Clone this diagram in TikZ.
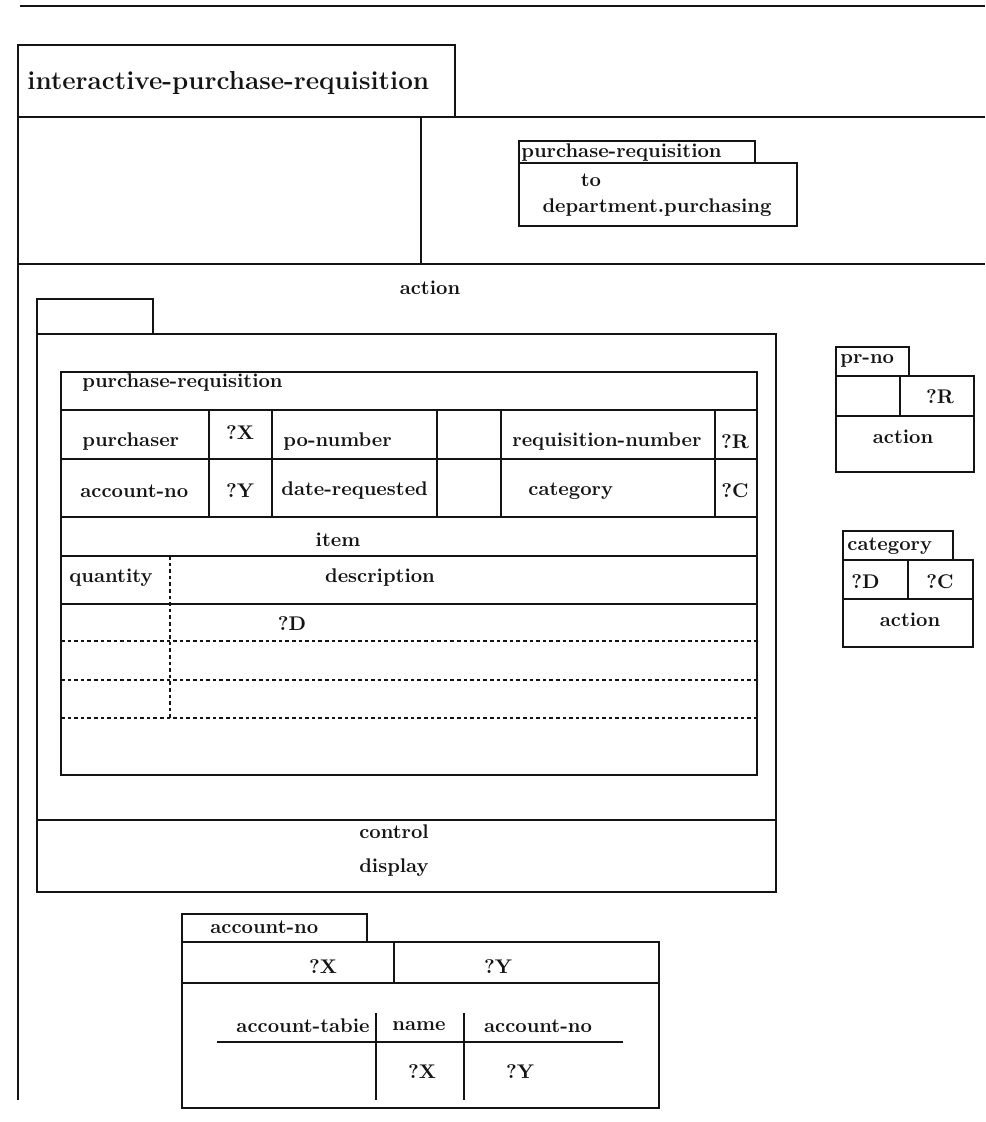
\documentclass[tikz,border=0pt]{standalone}
\usepackage{tikz}
\definecolor{formink}{RGB}{20,20,20}
\tikzset{
  rule/.style={draw=formink,line width=0.9pt},
  toprule/.style={draw=formink,line width=1.4pt},
  slot/.style={draw=formink,line width=0.7pt,dashed,dash pattern=on 1.8pt off 1.5pt},
  field/.style={font=\fontsize{9.9}{12}\selectfont\bfseries,inner sep=0pt,text=formink},
  fieldw/.style={field,anchor=west},
  bigtitle/.style={font=\fontsize{13}{16}\selectfont\bfseries,inner sep=0pt,anchor=west,text=formink}
}

\begin{document}
\begin{tikzpicture}[x=0.5pt,y=-0.5pt]
  \useasboundingbox (0,0) rectangle (985,1122);

  % outer frame
  \draw[toprule] (20,6) -- (985,6);
  \draw[rule] (18,45) rectangle (455,117);
  \draw[rule] (18,117) -- (985,117);
  \draw[rule] (421,117) -- (421,264);
  \draw[rule] (18,264) -- (985,264);
  \draw[rule] (18,45) -- (18,1100);
  \node[bigtitle] (ipr) at (27,83) {interactive-purchase-requisition};

  % message box
  \draw[rule] (519,141) rectangle (755,163);
  \draw[rule] (519,163) rectangle (797,226);
  \node[fieldw] (msgtab) at (521,153) {purchase-requisition};
  \node[field] (msgto) at (591,180) {to};
  \node[field] (msgdep) at (657,208) {department.purchasing};

  \node[field] (act) at (430,288) {action};

  % form window
  \draw[rule] (37,299) rectangle (153,334);
  \draw[rule] (37,334) rectangle (776,892);
  \draw[rule] (37,820) -- (776,820);
  \node[field] (ctl) at (394,832) {control};
  \node[field] (dsp) at (394,868) {display};

  % purchase-requisition form
  \draw[rule] (61,372) rectangle (757,775);
  \draw[rule] (61,410) -- (757,410);
  \draw[rule] (61,459) -- (757,459);
  \draw[rule] (61,517) -- (757,517);
  \draw[rule] (61,556) -- (757,556);
  \draw[rule] (61,604) -- (757,604);
  \foreach \cx in {209,272,437,501,715}
    \draw[rule] (\cx,410) -- (\cx,517);
  \draw[slot] (170,556) -- (170,718);
  \foreach \ry in {641,680,718}
    \draw[slot] (61,\ry) -- (757,\ry);

  \node[fieldw] (prtitle) at (82,383) {purchase-requisition};
  \node[fieldw] (purch) at (82,442) {purchaser};
  \node[field] (purchv) at (240,433) {?X};
  \node[fieldw] (pono) at (283,442) {po-number};
  \node[fieldw] (reqno) at (512,442) {requisition-number};
  \node[field] (reqnov) at (735,442) {?R};
  \node[fieldw] (accno) at (80,491) {account-no};
  \node[field] (accnov) at (240,491) {?Y};
  \node[fieldw] (daterq) at (281,491) {date-requested};
  \node[fieldw] (categ) at (528,491) {category};
  \node[field] (categv) at (735,491) {?C};
  \node[field] (item) at (338,540) {item};
  \node[fieldw] (qty) at (69,578) {quantity};
  \node[field] (descr) at (380,578) {description};
  \node[field] (descrv) at (292,624) {?D};

  % pr-no box
  \draw[rule] (836,347) rectangle (909,376);
  \draw[rule] (836,376) rectangle (974,472);
  \draw[rule] (836,416) -- (974,416);
  \draw[rule] (900,376) -- (900,416);
  \node[fieldw] (prno) at (840,361) {pr-no};
  \node[field] (prnov) at (940,397) {?R};
  \node[field] (prnoact) at (903,437) {action};

  % category box
  \draw[rule] (843,531) rectangle (953,560);
  \draw[rule] (843,560) rectangle (973,647);
  \draw[rule] (843,599) -- (973,599);
  \draw[rule] (908,560) -- (908,599);
  \node[fieldw] (cattab) at (847,546) {category};
  \node[fieldw] (catd) at (851,582) {?D};
  \node[field] (catc) at (940,582) {?C};
  \node[field] (catact) at (910,620) {action};

  % account-no box
  \draw[rule] (182,914) rectangle (367,942);
  \draw[rule] (182,942) rectangle (659,1108);
  \draw[rule] (182,983) -- (659,983);
  \draw[rule] (394,942) -- (394,983);
  \draw[rule] (217,1042) -- (623,1042);
  \draw[rule] (376,1013) -- (376,1100);
  \draw[rule] (464,1013) -- (464,1100);
  \node[fieldw] (acctab) at (210,927) {account-no};
  \node[field] (accx) at (323,967) {?X};
  \node[field] (accy) at (498,967) {?Y};
  \node[field,anchor=east] (acctbl) at (370,1026) {account-tabie};
  \node[field] (accname) at (419,1026) {name};
  \node[field] (acccol) at (538,1026) {account-no};
  \node[field] (tblx) at (422,1072) {?X};
  \node[field] (tbly) at (520,1072) {?Y};
\end{tikzpicture}
\end{document}
